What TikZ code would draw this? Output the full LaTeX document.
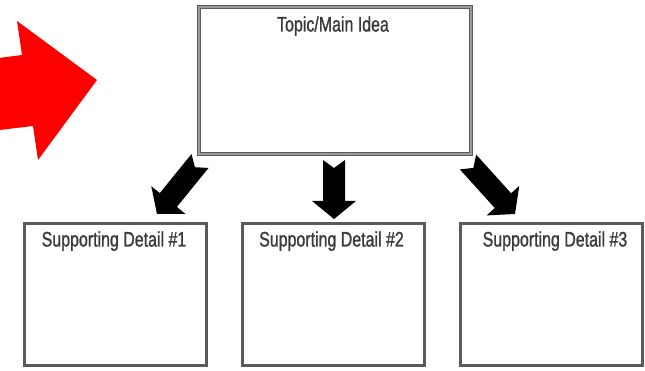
\documentclass[tikz,border=0pt]{standalone}
\usepackage{fontspec}
\setmainfont{Liberation Sans}
\newfontfamily\lblfont{Liberation Sans}[FakeBold=1.3]
\usetikzlibrary{calc}
\definecolor{txt}{HTML}{3A3A3A}
\definecolor{boxline}{HTML}{5A5A5A}
\definecolor{boxfill}{HTML}{9A9A9A}
\newcommand{\lbl}[1]{\scalebox{0.76}[1]{#1}}
\tikzset{
  topbox/.style={draw=boxline, double=boxfill, double distance=2pt, line width=1pt,
    minimum width=272pt, minimum height=147pt, inner sep=0pt, outer sep=0pt},
  detailbox/.style={draw=boxline, line width=3pt,
    minimum width=182pt, minimum height=142pt, inner sep=0pt, outer sep=0pt},
  boxtext/.style={text=txt, font=\lblfont\fontsize{21}{21}\selectfont, anchor=base, inner sep=0pt},
  bigarrow/.style={to path={
    let \p1=(\tikztostart), \p2=(\tikztotarget),
        \n1={atan2(\y2-\y1,\x2-\x1)} in
    ($(\p1)+(\n1+90:11pt)$)
    -- ($(\p2)+(\n1+180:18pt)+(\n1+90:11pt)$)
    -- ($(\p2)+(\n1+180:18pt)+(\n1+90:22pt)$)
    -- (\p2)
    -- ($(\p2)+(\n1+180:18pt)+(\n1-90:22pt)$)
    -- ($(\p2)+(\n1+180:18pt)+(\n1-90:11pt)$)
    -- ($(\p1)+(\n1-90:11pt)$)
    -- ($(\p1)+(\n1:8pt)$)
    -- cycle}}
}
\begin{document}
\begin{tikzpicture}[x=1pt,y=-1pt]
\useasboundingbox (0,0) rectangle (645,371);
% red arrow
\fill[red] (-5,58.5) -- (22,55) -- (17,21) -- (97,80) -- (38,160) -- (33,126) -- (-5,130.5) -- cycle;
% boxes
\node[topbox] (topic) at (335,80.5) {};
\node[detailbox] (d1) at (115,294.5) {};
\node[detailbox] (d2) at (333.5,294.5) {};
\node[detailbox] (d3) at (551,294.5) {};
% texts
\node[boxtext] (ttopic) at (333,31.5) {\lbl{Topic/Main Idea}};
\node[boxtext] (td1) at (114,246.5) {\lbl{Supporting Detail \#1}};
\node[boxtext] (td2) at (331.5,246.5) {\lbl{Supporting Detail \#2}};
\node[boxtext] (td3) at (555,246.5) {\lbl{Supporting Detail \#3}};
% block arrows
\coordinate (a1s) at (200,161);
\coordinate (a1e) at (157,214);
\coordinate (a2s) at (334,160);
\coordinate (a2e) at (334,219);
\coordinate (a3s) at (468,162);
\coordinate (a3e) at (515,214);
\fill[black] (a1s) to[bigarrow] (a1e);
\fill[black] (a2s) to[bigarrow] (a2e);
\fill[black] (a3s) to[bigarrow] (a3e);
\end{tikzpicture}
\end{document}
